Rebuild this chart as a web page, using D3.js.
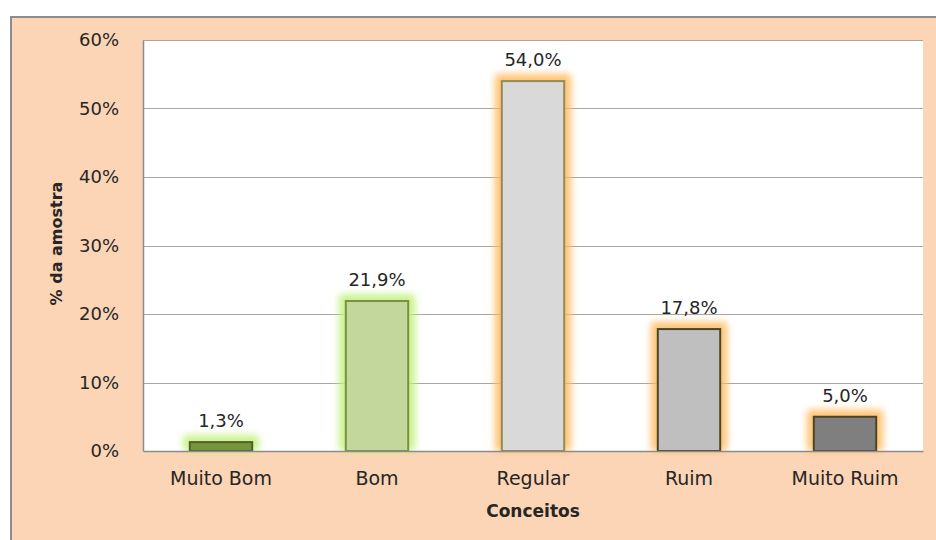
<!DOCTYPE html>
<html>
<head>
<meta charset="utf-8">
<script src="https://cdn.jsdelivr.net/npm/d3@7"></script>
<style>
  html, body { margin: 0; padding: 0; background: #ffffff; }
  svg { display: block; }
  text { font-family: "DejaVu Sans", "Noto Sans", sans-serif; fill: #262626; }
</style>
</head>
<body>
<script>
// Avaliação por conceito, em % da amostra
const categories = ["Muito Bom", "Bom", "Regular", "Ruim", "Muito Ruim"];
const values = [1.3, 21.9, 54.0, 17.8, 5.0];
const valueLabels = ["1,3%", "21,9%", "54,0%", "17,8%", "5,0%"];
const yTicks = [0, 10, 20, 30, 40, 50, 60];
const yTickLabels = ["0%", "10%", "20%", "30%", "40%", "50%", "60%"];
const fills = ["#77933c", "#c3d69b", "#d9d9d9", "#bfbfbf", "#7f7f7f"];
const strokes = ["#4f6228", "#77933c", "#948a54", "#4a452a", "#4a452a"];
const glows = ["#c2f07e", "#c2f07e", "#ffb95c", "#ffb95c", "#ffb95c"];

const W = 936, H = 540;
const plot = { left: 143, top: 40, right: 923, bottom: 451 };

const svg = d3.select("body").append("svg")
  .attr("width", W).attr("height", H);

const defs = svg.append("defs");
const blur = defs.append("filter").attr("id", "glow")
  .attr("x", "-50%").attr("y", "-50%").attr("width", "200%").attr("height", "200%");
blur.append("feGaussianBlur").attr("stdDeviation", 3.5);

// chart frame
svg.append("rect")
  .attr("x", 11).attr("y", 17)
  .attr("width", W + 10).attr("height", H + 10)
  .attr("fill", "#fbd5b5").attr("stroke", "#8c8c8c").attr("stroke-width", 2);

// plot area
svg.append("rect")
  .attr("x", plot.left).attr("y", plot.top)
  .attr("width", plot.right - plot.left).attr("height", plot.bottom - plot.top)
  .attr("fill", "#ffffff");

const x = d3.scaleBand()
  .domain(categories)
  .range([plot.left, plot.right])
  .paddingInner(0.6).paddingOuter(0.3);

const y = d3.scaleLinear().domain([0, 60]).range([plot.bottom, plot.top]);

// gridlines
svg.append("g")
  .selectAll("line").data(yTicks.filter(d => d > 0)).join("line")
  .attr("x1", plot.left).attr("x2", plot.right)
  .attr("y1", d => Math.round(y(d)) + 0.5).attr("y2", d => Math.round(y(d)) + 0.5)
  .attr("stroke", "#a6a6a6").attr("stroke-width", 1);

// y axis
const yAxis = svg.append("g")
  .attr("transform", `translate(${plot.left},0)`)
  .call(d3.axisLeft(y).tickValues(yTicks)
    .tickFormat((d, i) => yTickLabels[i]).tickSize(0).tickPadding(24));
yAxis.select(".domain").attr("stroke", "#8c8c8c").attr("stroke-width", 1.5);
yAxis.selectAll("text").style("font-size", "18px").attr("fill", "#333333")
  .style("font-family", "'DejaVu Sans', sans-serif");

// soft glow behind bars
svg.append("g")
  .selectAll("rect").data(values).join("rect")
  .attr("x", (d, i) => x(categories[i]) - 7)
  .attr("y", d => y(d) - 7)
  .attr("width", x.bandwidth() + 14)
  .attr("height", d => plot.bottom - y(d) + 7)
  .attr("rx", 4)
  .attr("fill", (d, i) => glows[i])
  .attr("opacity", 0.85)
  .attr("filter", "url(#glow)");

// bars
svg.append("g")
  .selectAll("rect").data(values).join("rect")
  .attr("x", (d, i) => x(categories[i]))
  .attr("y", d => y(d))
  .attr("width", x.bandwidth())
  .attr("height", d => plot.bottom - y(d))
  .attr("fill", (d, i) => fills[i])
  .attr("stroke", (d, i) => strokes[i])
  .attr("stroke-width", 2);

// x axis
const xAxis = svg.append("g")
  .attr("transform", `translate(0,${plot.bottom})`)
  .call(d3.axisBottom(x).tickSize(0).tickPadding(21));
xAxis.select(".domain").attr("stroke", "#8c8c8c").attr("stroke-width", 1.5);
xAxis.selectAll("text").style("font-size", "19px").attr("fill", "#1a1a1a")
  .style("font-family", "'DejaVu Sans', sans-serif");

// value labels
svg.append("g")
  .selectAll("text").data(values).join("text")
  .attr("x", (d, i) => x(categories[i]) + x.bandwidth() / 2)
  .attr("y", d => y(d) - 15)
  .attr("text-anchor", "middle")
  .style("font-size", "18px")
  .text((d, i) => valueLabels[i]);

// axis titles
svg.append("text")
  .attr("transform", `translate(62,${(plot.top + plot.bottom) / 2 - 2}) rotate(-90)`)
  .attr("text-anchor", "middle")
  .style("font-size", "16px").style("font-weight", "bold")
  .attr("fill", "#000")
  .text("% da amostra");

svg.append("text")
  .attr("x", (plot.left + plot.right) / 2)
  .attr("y", 517)
  .attr("text-anchor", "middle")
  .style("font-size", "17px").style("font-weight", "bold")
  .attr("fill", "#000")
  .text("Conceitos");
</script>
</body>
</html>
